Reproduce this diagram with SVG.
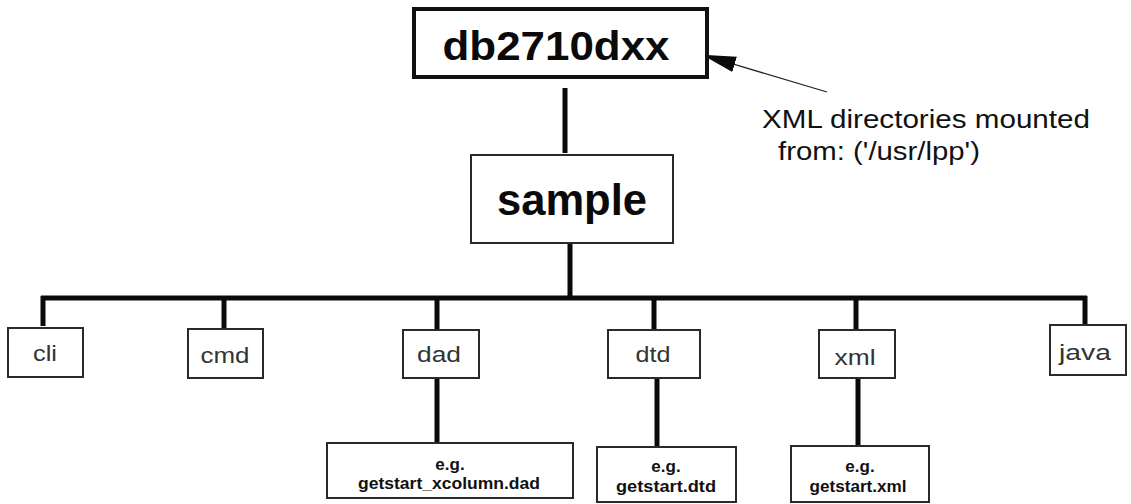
<svg xmlns="http://www.w3.org/2000/svg" width="1131" height="504" viewBox="0 0 1131 504">
  <style>
    .box { fill: #ffffff; stroke: #2a2a2a; stroke-width: 2; }
    .root { fill: #ffffff; stroke: #111111; stroke-width: 4; }
    .wire { stroke: #0a0a0a; stroke-width: 5; fill: none; }
    .big { font-family: "Liberation Sans", Arial, sans-serif; font-weight: bold; fill: #0a0a0a; text-anchor: middle; }
    .dir { font-family: "Liberation Sans", Arial, sans-serif; font-size: 22px; fill: #333333; text-anchor: middle; }
    .ex { font-family: "Liberation Sans", Arial, sans-serif; font-size: 17px; font-weight: bold; fill: #111111; text-anchor: middle; }
    .note { font-family: "Liberation Sans", Arial, sans-serif; font-size: 25px; fill: #111111; }
  </style>
  <defs>
    <marker id="head" markerWidth="34" markerHeight="18" refX="33" refY="9" orient="auto" markerUnits="userSpaceOnUse">
      <path d="M0,1 L34,9 L0,17 Z" fill="#0a0a0a"/>
    </marker>
  </defs>
  <rect width="1131" height="504" fill="#ffffff"/>

  <!-- connectors -->
  <g id="connectors">
    <line class="wire" x1="565" y1="88" x2="565" y2="153"/>
    <line class="wire" x1="570" y1="244" x2="570" y2="298"/>
    <line class="wire" x1="41" y1="298" x2="1087" y2="298"/>
    <line class="wire" x1="43" y1="296" x2="43" y2="326"/>
    <line class="wire" x1="224" y1="296" x2="224" y2="328"/>
    <line class="wire" x1="437" y1="296" x2="437" y2="330"/>
    <line class="wire" x1="654" y1="296" x2="654" y2="330"/>
    <line class="wire" x1="856" y1="296" x2="856" y2="330"/>
    <line class="wire" x1="1085" y1="296" x2="1085" y2="325"/>
    <line class="wire" x1="437" y1="378" x2="437" y2="443"/>
    <line class="wire" x1="657" y1="378" x2="657" y2="447"/>
    <line class="wire" x1="858" y1="378" x2="858" y2="446"/>
    <line x1="827" y1="92" x2="703" y2="55" stroke="#222222" stroke-width="1.3" marker-end="url(#head)"/>
  </g>

  <g id="node-db2710dxx">
    <rect class="root" x="414" y="9" width="293" height="68"/>
    <text class="big" x="556" y="60" font-size="40" textLength="227" lengthAdjust="spacingAndGlyphs">db2710dxx</text>
  </g>

  <g id="node-note">
    <text class="note" x="762" y="128" textLength="328" lengthAdjust="spacingAndGlyphs">XML directories mounted</text>
    <text class="note" x="778" y="160" textLength="202" lengthAdjust="spacingAndGlyphs">from: ('/usr/lpp')</text>
  </g>

  <g id="node-sample">
    <rect class="box" x="471" y="155" width="202" height="88"/>
    <text class="big" x="572" y="215" font-size="44" textLength="150" lengthAdjust="spacingAndGlyphs">sample</text>
  </g>

  <g id="node-cli">
    <rect class="box" x="8" y="328" width="75" height="49"/>
    <text class="dir" x="45" y="361" textLength="24" lengthAdjust="spacingAndGlyphs">cli</text>
  </g>
  <g id="node-cmd">
    <rect class="box" x="188" y="329" width="75" height="49"/>
    <text class="dir" x="225" y="363" textLength="49" lengthAdjust="spacingAndGlyphs">cmd</text>
  </g>
  <g id="node-dad">
    <rect class="box" x="403" y="330" width="76" height="48"/>
    <text class="dir" x="439" y="362" textLength="44" lengthAdjust="spacingAndGlyphs">dad</text>
  </g>
  <g id="node-dtd">
    <rect class="box" x="608" y="330" width="92" height="48"/>
    <text class="dir" x="653" y="362" textLength="35" lengthAdjust="spacingAndGlyphs">dtd</text>
  </g>
  <g id="node-xml">
    <rect class="box" x="819" y="330" width="76" height="48"/>
    <text class="dir" x="855" y="365" textLength="41" lengthAdjust="spacingAndGlyphs">xml</text>
  </g>
  <g id="node-java">
    <rect class="box" x="1050" y="325" width="76" height="50"/>
    <text class="dir" x="1085" y="360" textLength="52" lengthAdjust="spacingAndGlyphs">java</text>
  </g>

  <g id="node-dad-example">
    <rect class="box" x="327" y="443" width="246" height="55"/>
    <text class="ex" x="450" y="470">e.g.</text>
    <text class="ex" x="449" y="489" textLength="182" lengthAdjust="spacingAndGlyphs">getstart_xcolumn.dad</text>
  </g>
  <g id="node-dtd-example">
    <rect class="box" x="597" y="447" width="139" height="55"/>
    <text class="ex" x="666" y="472">e.g.</text>
    <text class="ex" x="666" y="492" textLength="100" lengthAdjust="spacingAndGlyphs">getstart.dtd</text>
  </g>
  <g id="node-xml-example">
    <rect class="box" x="791" y="446" width="138" height="56"/>
    <text class="ex" x="860" y="472">e.g.</text>
    <text class="ex" x="858" y="492" textLength="97" lengthAdjust="spacingAndGlyphs">getstart.xml</text>
  </g>
</svg>
